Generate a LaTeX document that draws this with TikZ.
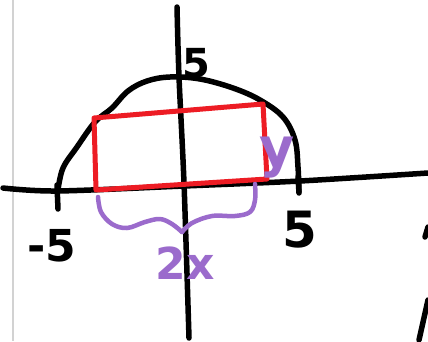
\documentclass[tikz,border=0pt]{standalone}
\usepackage{fontspec}
\setmainfont{DejaVu Sans}
\definecolor{pen}{HTML}{000000}
\definecolor{redpen}{HTML}{ED1C24}
\definecolor{purppen}{HTML}{9B6BCC}
\begin{document}
\begin{tikzpicture}[x=1pt,y=-1pt,
  ink/.style={line width=5.5pt,line cap=round,line join=round,pen},
  redink/.style={line width=5pt,line cap=round,line join=round,redpen},
  purpink/.style={line width=4.5pt,line cap=round,line join=round,purppen},
  lbl/.style={inner sep=0pt,text=pen},
  plbl/.style={inner sep=0pt,text=purppen}]
\useasboundingbox (0,0) rectangle (428,341);
\fill[white] (0,0) rectangle (428,341);
% page edge
\draw[gray!35,line width=1.5pt] (13,0) -- (13,341);
% axes
\coordinate (xl) at (3,188);
\coordinate (xr) at (428,173);
\coordinate (yt) at (177,7);
\coordinate (yb) at (189,338);
\draw[ink] plot[smooth,tension=0.5] coordinates {(xl) (57,191) (184,186) (300,181) (xr)};
\draw[ink] plot[smooth,tension=0.5] coordinates {(yt) (179,77) (184,183) (yb)};
% ticks
\coordinate (tla) at (57,185);
\coordinate (tlb) at (58,209);
\coordinate (tra) at (298,177);
\coordinate (trb) at (299,193);
\draw[ink] (tla) -- (tlb);
\draw[ink] (tra) -- (trb);
% semicircle
\draw[ink] plot[smooth,tension=0.6] coordinates {(58,190) (63,168) (77,147) (95,122) (112,108) (128,91) (147,81) (170,77) (200,79) (233,88) (260,100) (283,117) (295,140) (298,167) (299,192)};
% rectangle
\coordinate (rtl) at (94,118);
\coordinate (rtr) at (263,104);
\coordinate (rbr) at (267,179);
\coordinate (rbl) at (96,190);
\draw[redink] (rtl) -- (rtr) -- (rbr) -- (rbl) -- cycle;
% brace
\draw[purpink] plot[smooth,tension=0.6] coordinates {(98,197) (101,212) (112,224) (127,228) (145,222) (160,219) (172,224) (182,232)};
\draw[purpink] plot[smooth,tension=0.6] coordinates {(182,232) (192,223) (212,216) (235,216) (250,212) (255,200) (255,184)};
% labels
\node[lbl,font=\bfseries\fontsize{40}{40}\selectfont] (ltop) at (196,63) {5};
\node[lbl,font=\bfseries\fontsize{50}{50}\selectfont] (lright) at (300,230) {5};
\node[lbl,font=\bfseries\fontsize{44}{44}\selectfont] (lleft) at (52,246) {-5};
\node[plbl,font=\bfseries\fontsize{44}{44}\selectfont] (l2x) at (185,263) {2x};
\node[plbl,font=\bfseries\fontsize{54}{54}\selectfont] (ly) at (277,158) {y};
% cut-off stroke at right edge
\coordinate (ea) at (425,237);
\coordinate (eb) at (428,227);
\coordinate (ec) at (419,340);
\coordinate (ed) at (428,300);
\draw[ink] (ea) -- (eb);
\draw[ink] (ec) -- (ed);
\end{tikzpicture}
\end{document}
